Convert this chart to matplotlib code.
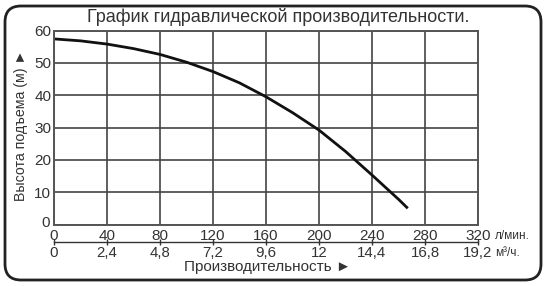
import matplotlib
matplotlib.use("Agg")
import matplotlib.pyplot as plt
from matplotlib.patches import FancyBboxPatch
from matplotlib.transforms import IdentityTransform, ScaledTranslation

plt.rcParams['font.family'] = ['Liberation Sans', 'DejaVu Sans']

# flow (l/min) vs head (m)
flow = [0, 20, 40, 60, 80, 100, 120, 140, 160, 180, 200, 220, 240, 260, 267]
head = [57.4, 56.8, 55.8, 54.4, 52.6, 50.2, 47.3, 43.8, 39.5, 34.6, 29.2, 22.6, 15.3, 7.8, 5.0]

flow_ticks = [0, 40, 80, 120, 160, 200, 240, 280, 320]
m3_labels = ['0', '2,4', '4,8', '7,2', '9,6', '12', '14,4', '16,8', '19,2']
head_ticks = [0, 10, 20, 30, 40, 50, 60]

title = 'График гидравлической производительности.'
ylab = 'Высота подъема (м) ►'
xlab = 'Производительность ►'

W, H = 551, 286
fig = plt.figure(figsize=(W / 100, H / 100), dpi=100)
ax = fig.add_axes([54 / W, 1 - 224.5 / H, (478 - 54) / W, (224.5 - 30.5) / H])

ax.plot(flow, head, color='#111111', lw=2.0, solid_capstyle='butt')
ax.set_xlim(0, 320)
ax.set_ylim(0, 60)
ax.set_xticks(flow_ticks)
ax.set_yticks(head_ticks)
ax.grid(True, color='#444444', lw=1.2)
ax.set_axisbelow(True)
for s in ax.spines.values():
    s.set_color('#555555')
    s.set_linewidth(1.4)
ax.tick_params(length=0, labelsize=11, colors='#333333')
ax.tick_params(axis='x', pad=3)
ax.tick_params(axis='y', pad=2)

# lift the y "0" a little so it clears the x "0"
lbl0 = ax.get_yticklabels()[0]
lbl0.set_transform(lbl0.get_transform() + ScaledTranslation(-1 / 100, 3 / 100, fig.dpi_scale_trans))

# second scale in m3/h under the l/min labels
sec = ax.secondary_xaxis(-0.092, functions=(lambda x: x * 0.06, lambda x: x / 0.06))
sec.set_xticks([f * 0.06 for f in flow_ticks])
sec.set_xticklabels(m3_labels)
sec.spines['bottom'].set_color('#333333')
sec.spines['bottom'].set_linewidth(1.0)
sec.tick_params(direction='inout', length=5, width=1, labelsize=10.8,
                colors='#333333', pad=0)

fig.text(495 / W, 1 - 239 / H, 'л/мин.', fontsize=8.5, va='baseline', color='#333333')
fig.text(495 / W, 1 - 255.5 / H, 'м³/ч.', fontsize=8.5, va='baseline', color='#333333')

fig.text(278.5 / W, 1 - 22 / H, title, fontsize=13, ha='center', va='baseline', color='#333333')
fig.text(21 / W, 1 - 125.5 / H, ylab, fontsize=10.2, rotation=90, ha='center', va='center',
         color='#333333')
fig.text(267 / W, 1 - 271 / H, xlab, fontsize=11, ha='center', va='baseline', color='#333333')

box = FancyBboxPatch((5, 6), 536, 274, boxstyle='round,pad=0,rounding_size=16',
                     transform=IdentityTransform(), fill=False, ec='#222222', lw=2.0)
fig.patches.append(box)

fig.savefig('out.png', dpi=100)
